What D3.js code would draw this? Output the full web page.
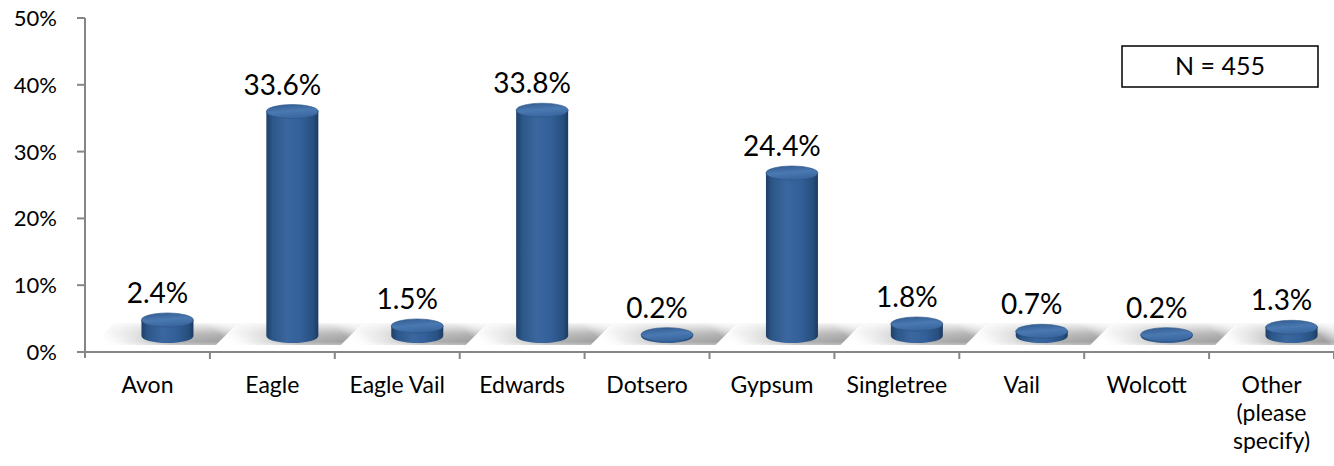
<!DOCTYPE html>
<html>
<head>
<meta charset="utf-8">
<script src="https://cdn.jsdelivr.net/npm/d3@7"></script>
<style>
  body { margin: 0; background: #fff; }
  svg { display: block; font-family: Lato, "Open Sans", sans-serif; }
</style>
</head>
<body>
<svg width="1334" height="466"></svg>
<script>
//data
const categories = ["Avon", "Eagle", "Eagle Vail", "Edwards", "Dotsero", "Gypsum", "Singletree", "Vail", "Wolcott", "Other (please specify)"];
const values = [2.4, 33.6, 1.5, 33.8, 0.2, 24.4, 1.8, 0.7, 0.2, 1.3];
const yTicks = [0, 10, 20, 30, 40, 50];
const sampleNote = "N = 455";

//constants
const plot = {left: 85, right: 1334, top: 18, bottom: 352};
const depthX = 20, depthY = 16;   // 3d offset of the cylinders
const rx = 26, ry = 7;
const axisColor = "#868686";

const svg = d3.select("svg");
const defs = svg.append("defs");

//scales
const xScale = d3.scaleBand()
    .domain(categories)
    .range([plot.left, plot.right])
    .padding(0);

const yScale = d3.scaleLinear()
    .domain([0, 50])
    .range([plot.bottom, plot.top]);

//gradients
const bodyGrad = defs.append("linearGradient").attr("id", "cylBody")
    .attr("x1", 0).attr("x2", 1).attr("y1", 0).attr("y2", 0);
[["0%", "#1f3f68"], ["12%", "#2c5789"], ["40%", "#3b679f"], ["65%", "#34609a"], ["90%", "#27507f"], ["100%", "#1c3960"]]
    .forEach(s => bodyGrad.append("stop").attr("offset", s[0]).attr("stop-color", s[1]));

const topGrad = defs.append("linearGradient").attr("id", "cylTop")
    .attr("x1", 0).attr("x2", 0.3).attr("y1", 0).attr("y2", 1);
[["0%", "#2f5a8f"], ["55%", "#4a78b0"], ["100%", "#3a679f"]]
    .forEach(s => topGrad.append("stop").attr("offset", s[0]).attr("stop-color", s[1]));

const floorGrad = defs.append("linearGradient").attr("id", "floorGrad")
    .attr("x1", 0).attr("x2", 1).attr("y1", 0.6).attr("y2", 0.4);
[["0%", "#ffffff", 0], ["18%", "#e0e0e0", 0.6], ["45%", "#b5b5b5", 1], ["85%", "#9c9c9c", 1], ["100%", "#bdbdbd", 0.6]]
    .forEach(s => floorGrad.append("stop").attr("offset", s[0]).attr("stop-color", s[1]).attr("stop-opacity", s[2]));

const floorFade = defs.append("linearGradient").attr("id", "floorFade")
    .attr("x1", 0).attr("x2", 0).attr("y1", 0).attr("y2", 1);
[["0%", "#ffffff", 0.9], ["50%", "#ffffff", 0.25], ["85%", "#ffffff", 0], ["100%", "#ffffff", 0.3]]
    .forEach(s => floorFade.append("stop").attr("offset", s[0]).attr("stop-color", s[1]).attr("stop-opacity", s[2]));

//floor shadows
const bw = xScale.bandwidth();
const floorG = svg.append("g");
categories.forEach(c => {
    const x0 = xScale(c);
    const pts = [[x0 + 8, plot.bottom - 7], [x0 + 30, plot.bottom - 29], [x0 + bw + 28, plot.bottom - 29], [x0 + bw + 6, plot.bottom - 7]]
        .map(p => [Math.min(p[0], plot.right), p[1]]);
    floorG.append("polygon").attr("points", pts.map(p => p.join(",")).join(" ")).attr("fill", "url(#floorGrad)");
    floorG.append("polygon").attr("points", pts.map(p => p.join(",")).join(" ")).attr("fill", "url(#floorFade)");
});

//axes
svg.append("line")
    .attr("x1", plot.left).attr("x2", plot.left)
    .attr("y1", plot.top).attr("y2", plot.bottom + 6)
    .attr("stroke", axisColor).attr("stroke-width", 2);

svg.append("line")
    .attr("x1", plot.left).attr("x2", plot.right)
    .attr("y1", plot.bottom).attr("y2", plot.bottom)
    .attr("stroke", axisColor).attr("stroke-width", 2);

svg.selectAll("ytick")
    .data(yTicks)
    .enter()
    .append("line")
    .attr("x1", plot.left - 8).attr("x2", plot.left)
    .attr("y1", d => yScale(d)).attr("y2", d => yScale(d))
    .attr("stroke", axisColor).attr("stroke-width", 2);

svg.selectAll("ylabel")
    .data(yTicks)
    .enter()
    .append("text")
    .attr("x", 57)
    .attr("y", d => yScale(d) + 8)
    .attr("text-anchor", "end")
    .style("font-size", "22px")
    .attr("fill", "#000")
    .text(d => d + "%");

svg.selectAll("xtick")
    .data(categories)
    .enter()
    .append("line")
    .attr("x1", d => xScale(d) + bw).attr("x2", d => xScale(d) + bw)
    .attr("y1", plot.bottom).attr("y2", plot.bottom + 7)
    .attr("stroke", axisColor).attr("stroke-width", 2);

//category labels
const xl = svg.selectAll("xlabel")
    .data(categories)
    .enter()
    .append("text")
    .attr("text-anchor", "middle")
    .style("font-size", "23px")
    .attr("fill", "#000");

xl.each(function(d) {
    const lines = d === "Other (please specify)" ? ["Other", "(please", "specify)"] : [d];
    const t = d3.select(this);
    lines.forEach((l, i) => {
        t.append("tspan")
            .attr("x", xScale(d) + bw / 2)
            .attr("y", 393 + i * 28)
            .text(l);
    });
});

//cylinders
const bars = svg.selectAll("bar")
    .data(categories.map((c, i) => ({c: c, v: values[i]})))
    .enter()
    .append("g");

bars.append("path")
    .attr("d", d => {
        const cx = xScale(d.c) + bw / 2 + depthX;
        const yt = yScale(d.v) - depthY;
        const yb = yScale(0) - depthY;
        return `M${cx - rx},${yt} L${cx - rx},${yb} A${rx},${ry} 0 0 0 ${cx + rx},${yb} L${cx + rx},${yt} Z`;
    })
    .attr("fill", "url(#cylBody)");

bars.append("ellipse")
    .attr("cx", d => xScale(d.c) + bw / 2 + depthX)
    .attr("cy", d => yScale(d.v) - depthY)
    .attr("rx", rx)
    .attr("ry", ry)
    .attr("fill", "url(#cylTop)")
    .attr("stroke", "#2a5282")
    .attr("stroke-width", 0.6);

//value labels
bars.append("text")
    .attr("x", d => xScale(d.c) + bw / 2 + 10)
    .attr("y", d => yScale(d.v) - depthY - ry - 10)
    .attr("text-anchor", "middle")
    .style("font-size", "28px")
    .attr("fill", "#000")
    .text(d => d.v.toFixed(1) + "%");

//N box
svg.append("rect")
    .attr("x", 1122).attr("y", 46)
    .attr("width", 196).attr("height", 41)
    .attr("fill", "#fff")
    .attr("stroke", "#000")
    .attr("stroke-width", 1.5);

svg.append("text")
    .attr("x", 1220).attr("y", 75)
    .attr("text-anchor", "middle")
    .style("font-size", "25px")
    .text(sampleNote);
</script>
</body>
</html>
